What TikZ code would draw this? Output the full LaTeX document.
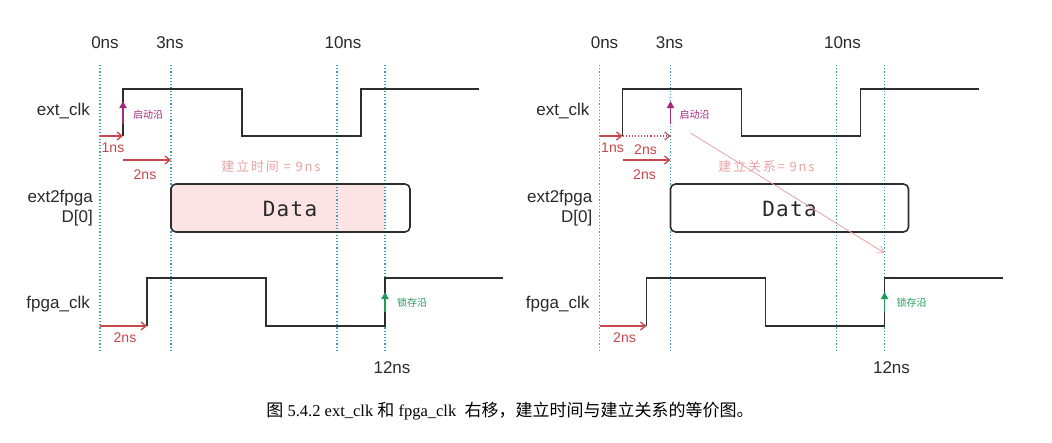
\documentclass[tikz,border=0pt]{standalone}
\usepackage{fontspec}
\setmainfont{Liberation Sans}
\setmonofont[LetterSpace=6]{DejaVu Sans Mono}
\newfontfamily\cjk{Noto Sans CJK SC}
\newfontfamily\cjkspaced[LetterSpace=14]{Noto Sans CJK SC}
\newfontfamily\capserif{Liberation Serif}
\usetikzlibrary{arrows.meta}
\definecolor{wavec}{HTML}{2E2E2E}
\definecolor{gridc}{HTML}{3E9FC4}
\definecolor{redc}{HTML}{C8474A}
\definecolor{pinkc}{HTML}{E9A3A6}
\definecolor{pinkfill}{HTML}{FCE4E4}
\definecolor{magc}{HTML}{A02C7C}
\definecolor{grnc}{HTML}{1F9A5A}
\definecolor{labc}{HTML}{2A2A2A}
\newcommand\tdpanel[1]{%
  \coordinate (#1t0) at (100,65);  \coordinate (#1b0) at (100,350);
  \coordinate (#1t3) at (171,65);  \coordinate (#1b3) at (171,350);
  \coordinate (#1t10) at (337,65); \coordinate (#1b10) at (337,350);
  \coordinate (#1t12) at (385,65); \coordinate (#1b12) at (385,350);
  \draw[gridline] (#1t0) -- (#1b0);
  \draw[gridline] (#1t3) -- (#1b3);
  \draw[gridline] (#1t10) -- (#1b10);
  \draw[gridline] (#1t12) -- (#1b12);
  \node[lab] (#1l0) at (105,43) {0ns};
  \node[lab] (#1l3) at (170,43) {3ns};
  \node[lab] (#1l10) at (343,43) {10ns};
  \node[lab] (#1l12) at (392,368) {12ns};
  \node[lab,anchor=east] (#1ext) at (90,111) {ext\_clk};
  \node[lab,anchor=east,align=right] (#1e2f) at (93,208) {ext2fpga\\D[0]};
  \node[lab,anchor=east] (#1fclk) at (90,304) {fpga\_clk};
  \draw[wave] (123,136) -- (123,89) -- (242,89) -- (242,136) -- (361,136) -- (361,89) -- (479,89);
  \draw[wave] (147,326) -- (147,278) -- (266,278) -- (266,326) -- (385,326) -- (385,278) -- (503,278);
  \coordinate (#1erise) at (123,136);
  \coordinate (#1frise) at (147,326);
  \coordinate (#1z1) at (100,136);
  \coordinate (#1z2) at (100,326);
  \draw[redarr] (#1z1) -- (#1erise);
  \draw[redarr] (#1z2) -- (#1frise);
  \node[redlab] (#1f2ns) at (125,338) {2ns};
  \coordinate (#1gs) at (385,312);
  \coordinate (#1ge) at (385,292);
  \draw[grnarr] (#1gs) -- (#1ge);
  \node[grnlab] (#1latch) at (412,303) {锁存沿};
  \node[datatxt] (#1data) at (290,209) {Data};
}
\begin{document}
\begin{tikzpicture}[x=1pt,y=-1pt,
  wave/.style={draw=wavec,line width=1.6pt,line join=miter},
  gridline/.style={draw=gridc,line width=1.2pt,dotted},
  redarr/.style={draw=redc,line width=1.3pt,-{Straight Barb[length=5pt,width=8pt]}},
  reddot/.style={draw=redc,line width=1.1pt,dotted,-{Straight Barb[length=5pt,width=8pt]}},
  magarr/.style={draw=magc,line width=1.8pt,-{Triangle[length=7pt,width=7pt]}},
  grnarr/.style={draw=grnc,line width=1.8pt,-{Triangle[length=7pt,width=7pt]}},
  pinkarr/.style={draw=pinkc,line width=0.8pt,-{Straight Barb[length=6pt,width=8pt]}},
  lab/.style={font=\fontsize{17}{19.5}\selectfont,text=labc,inner sep=0pt},
  redlab/.style={font=\fontsize{14}{16}\selectfont,text=redc,inner sep=0pt},
  maglab/.style={font=\cjk\fontsize{10}{11}\selectfont,text=magc,inner sep=0pt},
  grnlab/.style={font=\cjk\fontsize{10}{11}\selectfont,text=grnc,inner sep=0pt},
  pinklab/.style={font=\cjkspaced\fontsize{13}{15}\selectfont,text=pinkc,inner sep=0pt},
  datatxt/.style={font=\ttfamily\fontsize{21}{24}\selectfont,text=labc,inner sep=0pt},
  databox/.style={draw=wavec,line width=1.6pt,rounded corners=5pt},
  caption/.style={font=\capserif\fontsize{16.5}{18}\selectfont,text=black,inner sep=0pt}
]
\useasboundingbox (0,0) rectangle (1052,442);
\fill[white] (0,0) rectangle (1052,442);
% ---------- left panel ----------
\begin{scope}
  \fill[pinkfill,rounded corners=3pt] (171,184) -- (385,184) -- (385,232) -- (171,232) -- cycle;
  \tdpanel{L}
  \draw[databox] (171,184) rectangle (410,232);
  \node[redlab] (L1ns) at (113,148) {1ns};
  \coordinate (La2s) at (123,160);
  \coordinate (La2e) at (171,160);
  \draw[redarr] (La2s) -- (La2e);
  \node[redlab] (L2ns) at (145,175) {2ns};
  \coordinate (Lms) at (123,124);
  \coordinate (Lme) at (123,101);
  \draw[magarr] (Lms) -- (Lme);
  \node[maglab] (Llaunch) at (148,115) {启动沿};
  \node[pinklab] (Lsetup) at (271,167) {建立时间 = 9ns};
\end{scope}
% ---------- right panel ----------
\begin{scope}[xshift=499.5]
  \tdpanel{R}
  \draw[databox] (171,184) rectangle (409,232);
  \node[redlab] (R1ns) at (113,148) {1ns};
  \coordinate (Rd2e) at (171,136);
  \draw[reddot] (Rerise) -- (Rd2e);
  \node[redlab] (R2nsa) at (146,150) {2ns};
  \coordinate (Ra2s) at (123,160);
  \coordinate (Ra2e) at (171,160);
  \draw[redarr] (Ra2s) -- (Ra2e);
  \node[redlab] (R2ns) at (145,175) {2ns};
  \coordinate (Rms) at (171,124);
  \coordinate (Rme) at (171,101);
  \draw[magarr] (Rms) -- (Rme);
  \node[maglab] (Rlaunch) at (195,115) {启动沿};
  \node[pinklab] (Rsetup) at (267,167) {建立关系= 9ns};
  \coordinate (Rps) at (191,133);
  \coordinate (Rpe) at (385,253);
  \draw[pinkarr] (Rps) -- (Rpe);
\end{scope}
% ---------- caption ----------
\node[caption] (cap) at (510,411) {{\cjk\fontsize{17}{18}\selectfont 图} 5.4.2 ext\_clk {\cjk\fontsize{17}{18}\selectfont 和} fpga\_clk \ {\cjk\fontsize{17}{18}\selectfont 右移，建立时间与建立关系的等价图。}};
\end{tikzpicture}
\end{document}
